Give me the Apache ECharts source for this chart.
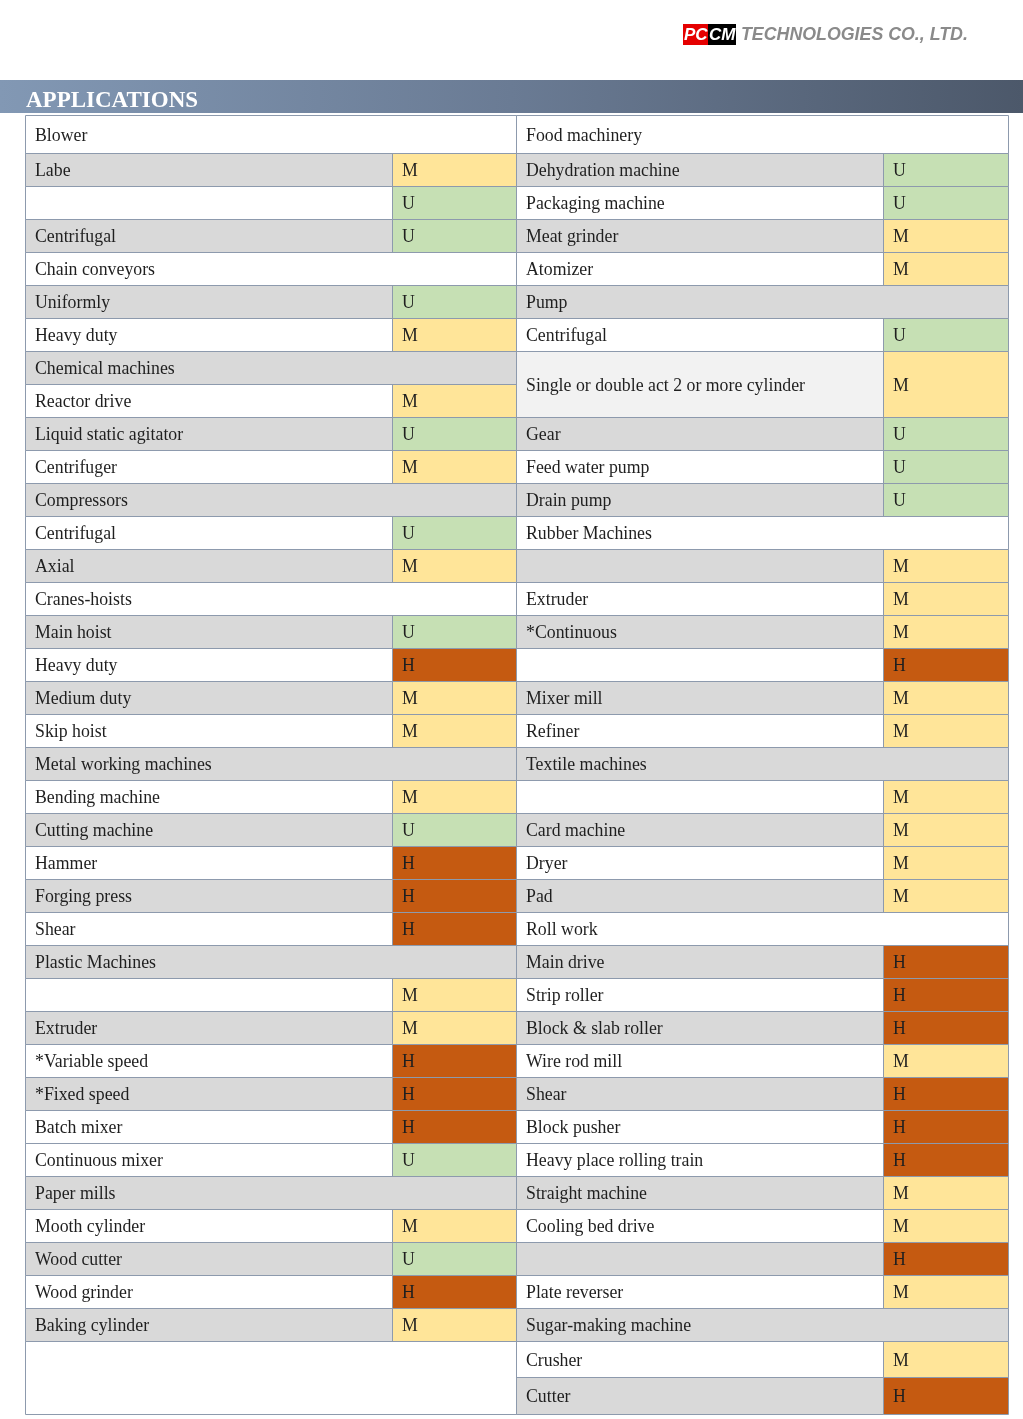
<!DOCTYPE html>
<html>
<head>
<meta charset="utf-8">
<title>Applications</title>
<script src="https://cdn.jsdelivr.net/npm/echarts@6/dist/echarts.min.js"></script>
<style>
  html, body { margin: 0; padding: 0; background: #fff; }
  #chart { width: 1023px; height: 1419px; }
</style>
</head>
<body>
<div id="chart"></div>
<script>
  // left half of the table, one entry per line. rating null = group heading over both columns
  const leftNames = ['Blower', 'Labe', '', 'Centrifugal', 'Chain conveyors', 'Uniformly', 'Heavy duty',
    'Chemical machines', 'Reactor drive', 'Liquid static agitator', 'Centrifuger', 'Compressors',
    'Centrifugal', 'Axial', 'Cranes-hoists', 'Main hoist', 'Heavy duty', 'Medium duty', 'Skip hoist',
    'Metal working machines', 'Bending machine', 'Cutting machine', 'Hammer', 'Forging press', 'Shear',
    'Plastic Machines', '', 'Extruder', '*Variable speed', '*Fixed speed', 'Batch mixer',
    'Continuous mixer', 'Paper mills', 'Mooth cylinder', 'Wood cutter', 'Wood grinder',
    'Baking cylinder', ''];
  const leftRatings = [null, 'M', 'U', 'U', null, 'U', 'M',
    null, 'M', 'U', 'M', null,
    'U', 'M', null, 'U', 'H', 'M', 'M',
    null, 'M', 'U', 'H', 'H', 'H',
    null, 'M', 'M', 'H', 'H', 'H',
    'U', null, 'M', 'U', 'H',
    'M', null];
  const leftDoubleRows = [37];   // entries covering two table rows

  const rightNames = ['Food machinery', 'Dehydration machine', 'Packaging machine', 'Meat grinder', 'Atomizer',
    'Pump', 'Centrifugal', 'Single or double act 2 or more cylinder', 'Gear', 'Feed water pump',
    'Drain pump', 'Rubber Machines', '', 'Extruder', '*Continuous', '', 'Mixer mill', 'Refiner',
    'Textile machines', '', 'Card machine', 'Dryer', 'Pad', 'Roll work', 'Main drive', 'Strip roller',
    'Block & slab roller', 'Wire rod mill', 'Shear', 'Block pusher', 'Heavy place rolling train',
    'Straight machine', 'Cooling bed drive', '', 'Plate reverser', 'Sugar-making machine',
    'Crusher', 'Cutter'];
  const rightRatings = [null, 'U', 'U', 'M', 'M',
    null, 'U', 'M', 'U', 'U',
    'U', null, 'M', 'M', 'M', 'H', 'M', 'M',
    null, 'M', 'M', 'M', 'M', null, 'H', 'H',
    'H', 'M', 'H', 'H', 'H',
    'M', 'M', 'H', 'M', null,
    'M', 'H'];
  const rightDoubleRows = [7];

  // layout + style
  const colWidths = [367, 124, 367, 125];
  const rowHeights = [38].concat(new Array(36).fill(33), [36, 37]);
  const shadedRows = [1, 3, 5, 7, 9, 11, 13, 15, 17, 19, 21, 23, 25, 27, 29, 32, 34, 36, 38];
  const ratingColors = { M: '#ffe599', U: '#c6e0b4', H: '#c55a11' };
  const gray = '#d9d9d9';
  const white = '#ffffff';
  const borderColor = '#8d9aad';
  const cellFont = '17.8px "Liberation Serif", "Times New Roman", serif';

  const colEdges = [0];
  colWidths.forEach(w => colEdges.push(colEdges[colEdges.length - 1] + w));
  const rowEdges = [0];
  rowHeights.forEach(h => rowEdges.push(rowEdges[rowEdges.length - 1] + h));

  let cells = [];
  function addSide(names, ratings, doubles, col, tallFill) {
    let row = 0;
    names.forEach((name, i) => {
      let span = doubles.indexOf(i) >= 0 ? 2 : 1;
      let y0 = rowEdges[row], y1 = rowEdges[row + span];
      let band = span > 1 ? tallFill : (shadedRows.indexOf(row) >= 0 ? gray : white);
      if (ratings[i] === null) {
        cells.push({ x0: colEdges[col], x1: colEdges[col + 2], y0: y0, y1: y1, text: name, fill: band });
      } else {
        cells.push({ x0: colEdges[col], x1: colEdges[col + 1], y0: y0, y1: y1, text: name, fill: band });
        cells.push({ x0: colEdges[col + 1], x1: colEdges[col + 2], y0: y0, y1: y1,
          text: ratings[i], fill: ratingColors[ratings[i]] });
      }
      row += span;
    });
  }
  addSide(leftNames, leftRatings, leftDoubleRows, 0, white);
  addSide(rightNames, rightRatings, rightDoubleRows, 2, '#f2f2f2');

  let myChart = echarts.init(document.getElementById('chart'));
  let option = {
    backgroundColor: '#fff',
    animation: false,
    title: {
      text: 'APPLICATIONS',
      left: 26,
      top: 90,
      padding: 0,
      textStyle: {
        color: '#fff',
        fontFamily: '"Liberation Serif", "Times New Roman", serif',
        fontWeight: 'bold',
        fontSize: 23
      }
    },
    graphic: [
      {
        type: 'rect',
        z: 0,
        shape: { x: 0, y: 80, width: 1023, height: 33 },
        style: {
          fill: new echarts.graphic.LinearGradient(0, 0, 1, 0, [
            { offset: 0, color: '#8298b4' },
            { offset: 0.5, color: '#6a7b94' },
            { offset: 1, color: '#4c586a' }
          ])
        }
      },
      { type: 'rect', shape: { x: 683, y: 24, width: 25, height: 21 }, style: { fill: '#e50000' } },
      { type: 'rect', shape: { x: 708, y: 24, width: 28, height: 21 }, style: { fill: '#000' } },
      {
        type: 'text', x: 684, y: 35,
        style: { text: 'PC', fill: '#fff', font: 'italic bold 17px "Liberation Sans", Arial, sans-serif', verticalAlign: 'middle' }
      },
      {
        type: 'text', x: 709, y: 35,
        style: { text: 'CM', fill: '#fff', font: 'italic bold 17px "Liberation Sans", Arial, sans-serif', verticalAlign: 'middle' }
      },
      {
        type: 'text', x: 741, y: 35,
        style: {
          text: 'TECHNOLOGIES CO., LTD.',
          fill: '#8a8a8a',
          font: 'italic bold 17.8px "Liberation Sans", Arial, sans-serif',
          verticalAlign: 'middle'
        }
      }
    ],
    grid: {
      left: 25,
      top: 115,
      width: colEdges[colEdges.length - 1],
      height: rowEdges[rowEdges.length - 1]
    },
    xAxis: {
      type: 'value',
      min: 0,
      max: colEdges[colEdges.length - 1],
      show: false
    },
    yAxis: {
      type: 'value',
      min: 0,
      max: rowEdges[rowEdges.length - 1],
      inverse: true,
      show: false
    },
    series: [
      {
        type: 'custom',
        clip: false,
        data: cells.map(c => [c.x0, c.y0, c.x1, c.y1]),
        renderItem: function (params, api) {
          let c = cells[params.dataIndex];
          let p0 = api.coord([api.value(0), api.value(1)]);
          let p1 = api.coord([api.value(2), api.value(3)]);
          let x0 = Math.round(p0[0]), y0 = Math.round(p0[1]);
          let x1 = Math.round(p1[0]), y1 = Math.round(p1[1]);
          return {
            type: 'group',
            children: [
              {
                type: 'rect', z2: 0,
                shape: { x: x0, y: y0, width: x1 - x0, height: y1 - y0 },
                style: { fill: c.fill }
              },
              {
                type: 'rect', z2: 10,
                shape: { x: x0 + 0.5, y: y0 + 0.5, width: x1 - x0, height: y1 - y0 },
                style: { fill: null, stroke: borderColor, lineWidth: 1 }
              },
              {
                type: 'text', z2: 20,
                style: {
                  x: x0 + 10,
                  y: (y0 + y1) / 2 + 2,
                  text: c.text,
                  fill: '#1f1f1f',
                  font: cellFont,
                  verticalAlign: 'middle'
                }
              }
            ]
          };
        }
      }
    ]
  };
  myChart.setOption(option);
  window.addEventListener('resize', function () { myChart.resize(); });
</script>
</body>
</html>
